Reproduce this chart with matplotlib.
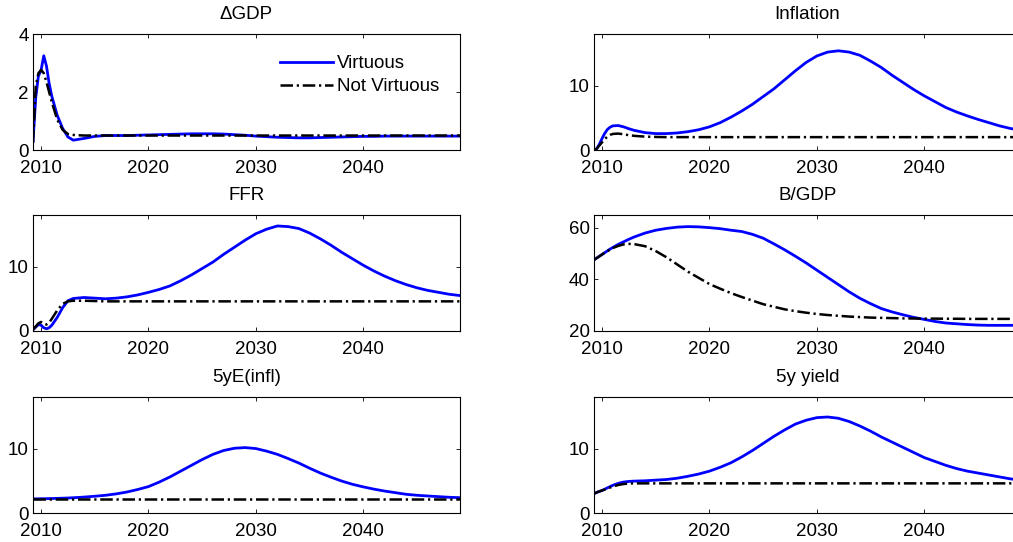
"""Virtuous vs. not virtuous scenario paths, six panels."""

# Import libraries
import matplotlib
matplotlib.use("Agg")
import matplotlib.pyplot as plt

# Time axis (quarterly at the start, then yearly)
years = [2009.25, 2009.5, 2009.75, 2010, 2010.25, 2010.5, 2010.75, 2011, 2011.5, 2012, 2012.5,
         2013, 2014, 2015, 2016, 2017, 2018, 2019, 2020, 2021, 2022, 2023, 2024, 2025,
         2026, 2027, 2028, 2029, 2030, 2031, 2032, 2033, 2034, 2035, 2036, 2037, 2038,
         2039, 2040, 2041, 2042, 2043, 2044, 2045, 2046, 2047, 2048, 2049]

titles = ['\u0394GDP', 'Inflation', 'FFR', 'B/GDP', '5yE(infl)', '5y yield']
legend_labels = ['Virtuous', 'Not Virtuous']
xticks = [2010, 2020, 2030, 2040]

# Delta GDP
gdp_virtuous = [0.3, 1.8, 2.55, 2.75, 3.25, 2.9, 2.3, 1.85, 1.2, 0.75, 0.45,
                0.34, 0.40, 0.47, 0.50, 0.50, 0.50, 0.51, 0.52, 0.53, 0.54, 0.55, 0.56, 0.56,
                0.56, 0.55, 0.53, 0.51, 0.48, 0.46, 0.44, 0.43, 0.42, 0.42, 0.43, 0.44, 0.45,
                0.46, 0.47, 0.47, 0.48, 0.48, 0.48, 0.48, 0.48, 0.48, 0.48, 0.48]
gdp_not_virtuous = [0.25, 2.2, 2.65, 2.76, 2.65, 2.35, 2.0, 1.65, 1.05, 0.7, 0.55,
                    0.52, 0.5, 0.5, 0.5, 0.5, 0.5, 0.5, 0.5, 0.5, 0.5, 0.5, 0.5, 0.5,
                    0.5, 0.5, 0.5, 0.5, 0.5, 0.5, 0.5, 0.5, 0.5, 0.5, 0.5, 0.5, 0.5,
                    0.5, 0.5, 0.5, 0.5, 0.5, 0.5, 0.5, 0.5, 0.5, 0.5, 0.5]

# Inflation
infl_virtuous = [0.0, 0.2, 0.9, 1.8, 2.6, 3.2, 3.55, 3.75, 3.8, 3.6, 3.3,
                 3.05, 2.7, 2.55, 2.55, 2.65, 2.85, 3.15, 3.6, 4.25, 5.1, 6.05, 7.1, 8.3,
                 9.5, 10.9, 12.3, 13.6, 14.6, 15.2, 15.4, 15.2, 14.7, 13.8, 12.8, 11.6, 10.5,
                 9.4, 8.4, 7.5, 6.6, 5.9, 5.3, 4.75, 4.25, 3.75, 3.35, 3.05]
infl_not_virtuous = [0.0, 0.2, 0.7, 1.2, 1.7, 2.1, 2.35, 2.5, 2.55, 2.45, 2.3,
                     2.2, 2.08, 2.03, 2.0, 2.0, 2.0, 2.0, 2.0, 2.0, 2.0, 2.0, 2.0, 2.0,
                     2.0, 2.0, 2.0, 2.0, 2.0, 2.0, 2.0, 2.0, 2.0, 2.0, 2.0, 2.0, 2.0,
                     2.0, 2.0, 2.0, 2.0, 2.0, 2.0, 2.0, 2.0, 2.0, 2.0, 2.0]

# Federal funds rate
ffr_virtuous = [0.2, 0.6, 1.0, 0.9, 0.5, 0.35, 0.5, 0.9, 2.1, 3.6, 4.7,
                5.05, 5.2, 5.1, 5.0, 5.1, 5.3, 5.6, 6.0, 6.45, 7.0, 7.8, 8.7, 9.7,
                10.7, 11.9, 13.0, 14.1, 15.1, 15.8, 16.3, 16.2, 15.9, 15.2, 14.3, 13.3, 12.2,
                11.2, 10.2, 9.3, 8.5, 7.8, 7.2, 6.7, 6.3, 6.0, 5.7, 5.5]
ffr_not_virtuous = [0.2, 0.7, 1.2, 1.4, 1.1, 1.0, 1.3, 1.9, 3.2, 4.2, 4.6,
                    4.7, 4.7, 4.65, 4.6, 4.6, 4.6, 4.6, 4.6, 4.6, 4.6, 4.6, 4.6, 4.6,
                    4.6, 4.6, 4.6, 4.6, 4.6, 4.6, 4.6, 4.6, 4.6, 4.6, 4.6, 4.6, 4.6,
                    4.6, 4.6, 4.6, 4.6, 4.6, 4.6, 4.6, 4.6, 4.6, 4.6, 4.6]

# Debt to GDP
debt_virtuous = [47.6, 48.3, 49.0, 49.7, 50.4, 51.1, 51.8, 52.4, 53.6, 54.6, 55.6,
                 56.5, 58.0, 59.1, 59.8, 60.3, 60.5, 60.4, 60.1, 59.7, 59.1, 58.6, 57.5, 56.0,
                 53.8, 51.5, 49.0, 46.4, 43.6, 40.8, 38.0, 35.2, 32.7, 30.6, 28.7, 27.4, 26.3,
                 25.3, 24.5, 23.7, 23.1, 22.8, 22.5, 22.3, 22.2, 22.2, 22.2, 22.2]
debt_not_virtuous = [47.6, 48.3, 49.0, 49.7, 50.4, 51.0, 51.6, 52.2, 53.0, 53.6, 53.8,
                     53.7, 52.9, 51.0, 48.6, 45.8, 43.0, 40.6, 38.2, 36.4, 34.7, 33.2, 31.8, 30.4,
                     29.4, 28.4, 27.7, 27.1, 26.6, 26.2, 25.9, 25.6, 25.4, 25.2, 25.1, 25.0, 24.9,
                     24.85, 24.8, 24.8, 24.75, 24.75, 24.7, 24.7, 24.7, 24.7, 24.7, 24.7]

# 5 year expected inflation
einfl_virtuous = [2.2, 2.2, 2.2, 2.22, 2.22, 2.23, 2.24, 2.25, 2.27, 2.3, 2.33,
                  2.37, 2.47, 2.6, 2.75, 2.97, 3.26, 3.65, 4.1, 4.8, 5.6, 6.5, 7.4, 8.3,
                  9.1, 9.7, 10.05, 10.15, 10.0, 9.6, 9.1, 8.45, 7.75, 6.95, 6.2, 5.55, 4.95,
                  4.45, 4.05, 3.7, 3.4, 3.15, 2.9, 2.75, 2.64, 2.54, 2.44, 2.38]
einfl_not_virtuous = [2.1, 2.1, 2.1, 2.1, 2.1, 2.1, 2.1, 2.1, 2.1, 2.1, 2.1,
                      2.1, 2.1, 2.1, 2.1, 2.1, 2.1, 2.1, 2.1, 2.1, 2.1, 2.1, 2.1, 2.1,
                      2.1, 2.1, 2.1, 2.1, 2.1, 2.1, 2.1, 2.1, 2.1, 2.1, 2.1, 2.1, 2.1,
                      2.1, 2.1, 2.1, 2.1, 2.1, 2.1, 2.1, 2.1, 2.1, 2.1, 2.1]

# 5 year yield
yield_virtuous = [3.0, 3.2, 3.35, 3.5, 3.7, 3.9, 4.1, 4.3, 4.6, 4.8, 4.9,
                  4.95, 5.0, 5.1, 5.2, 5.4, 5.7, 6.05, 6.5, 7.1, 7.8, 8.7, 9.7, 10.8,
                  11.9, 12.9, 13.8, 14.4, 14.8, 14.9, 14.7, 14.2, 13.5, 12.7, 11.8, 11.0, 10.2,
                  9.4, 8.6, 8.0, 7.4, 6.9, 6.5, 6.2, 5.9, 5.6, 5.3, 5.1]
yield_not_virtuous = [3.0, 3.2, 3.35, 3.5, 3.65, 3.8, 3.95, 4.1, 4.35, 4.5, 4.58,
                      4.6, 4.6, 4.6, 4.6, 4.6, 4.6, 4.6, 4.6, 4.6, 4.6, 4.6, 4.6, 4.6,
                      4.6, 4.6, 4.6, 4.6, 4.6, 4.6, 4.6, 4.6, 4.6, 4.6, 4.6, 4.6, 4.6,
                      4.6, 4.6, 4.6, 4.6, 4.6, 4.6, 4.6, 4.6, 4.6, 4.6, 4.6]

series = [(gdp_virtuous, gdp_not_virtuous),
          (infl_virtuous, infl_not_virtuous),
          (ffr_virtuous, ffr_not_virtuous),
          (debt_virtuous, debt_not_virtuous),
          (einfl_virtuous, einfl_not_virtuous),
          (yield_virtuous, yield_not_virtuous)]

ylims = [(0, 4), (0, 18), (0, 18), (20, 65), (0, 18), (0, 18)]
yticks = [[0, 2, 4], [0, 10], [0, 10], [20, 40, 60], [0, 10], [0, 10]]


def plot_scenarios():
    plt.rcParams['font.family'] = ['Liberation Sans', 'DejaVu Sans']
    plt.rcParams['font.size'] = 13.5

    fig = plt.figure(figsize=(10.13, 5.42), dpi=100)

    # axes positions in figure fractions (right column runs past the edge)
    lefts = [0.0326, 0.5864]
    bottoms = [0.7232, 0.3893, 0.0535]
    width = 0.4215
    height = 0.214

    for i, (virt, not_virt) in enumerate(series):
        row, col = divmod(i, 2)
        ax = fig.add_axes([lefts[col], bottoms[row], width, height])
        ax.plot(years, virt, color=(0, 0, 1), linewidth=2.0, zorder=2)
        ax.plot(years, not_virt, color='black', linewidth=1.8,
                linestyle=(0, (5, 1.5, 0.9, 1.5)), zorder=3)
        ax.set_xlim(2009.25, 2049)
        ax.set_ylim(ylims[i])
        ax.set_xticks(xticks)
        ax.set_yticks(yticks[i])
        ax.tick_params(direction='in', length=3, width=0.6, top=True, right=True)
        ax.tick_params(axis='x', pad=7.5)
        ax.tick_params(axis='y', pad=3)
        for spine in ax.spines.values():
            spine.set_linewidth(0.8)
        ax.set_title(titles[i], fontsize=13.5, pad=10.5)

        if i == 0:
            ax.legend(legend_labels, loc='upper right', frameon=False,
                      handlelength=2.8, handletextpad=0.22, labelspacing=0.32,
                      borderaxespad=0.72, fontsize=13.5)

    plt.savefig('out.png', dpi=100)
    plt.close(fig)

    return None


# Entry point of the script
if __name__ == '__main__':
    plot_scenarios()
